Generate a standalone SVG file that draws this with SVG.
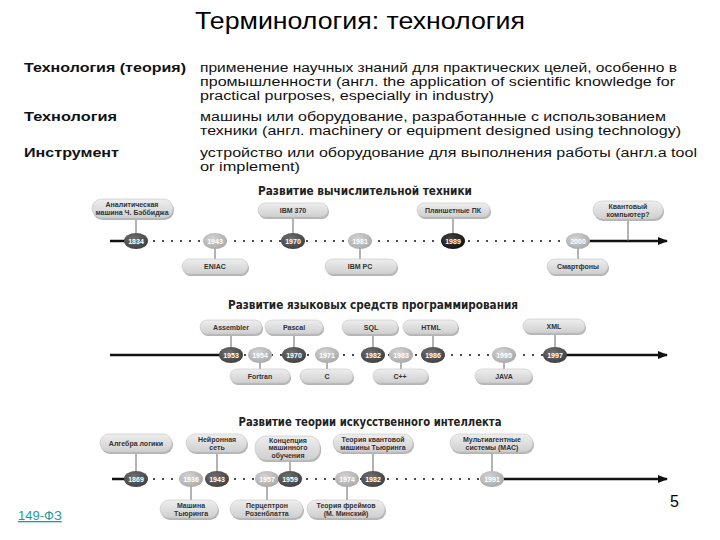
<svg xmlns="http://www.w3.org/2000/svg" width="720" height="540" viewBox="0 0 720 540">
<defs>
<linearGradient id="pg" x1="0" y1="0" x2="0" y2="1"><stop offset="0" stop-color="#eeeeee"/><stop offset="1" stop-color="#cfcfcf"/></linearGradient>
<radialGradient id="gd" cx="0.4" cy="0.35" r="0.7"><stop offset="0" stop-color="#707070"/><stop offset="1" stop-color="#3e3e3e"/></radialGradient>
<radialGradient id="gl" cx="0.4" cy="0.35" r="0.7"><stop offset="0" stop-color="#d4d4d4"/><stop offset="1" stop-color="#a8a8a8"/></radialGradient>
<radialGradient id="gb" cx="0.4" cy="0.35" r="0.7"><stop offset="0" stop-color="#444"/><stop offset="1" stop-color="#111"/></radialGradient>
<marker id="arr" markerWidth="10" markerHeight="8" refX="9" refY="4" orient="auto" markerUnits="userSpaceOnUse"><path d="M0,0 L10,4 L0,8 Z" fill="#111"/></marker>
<style>
.h{font-family:"Liberation Sans",Arial,sans-serif;fill:#000}
.lb{font-family:"Liberation Sans",Arial,sans-serif;font-weight:bold;font-size:12.5px;fill:#111}
.d{font-family:"Liberation Sans",Arial,sans-serif;font-size:12.5px;fill:#111}
.tt{font-family:"DejaVu Sans","Liberation Sans",sans-serif;font-weight:bold;font-size:12px;fill:#222;text-anchor:middle}
.pill{fill:url(#pg);stroke:#c4c4c4;stroke-width:0.6}
.sh{fill:#b5b5b5}
.pt{font-family:"Liberation Sans",Arial,sans-serif;font-weight:bold;font-size:7px;fill:#333;text-anchor:middle}
.yd{fill:url(#gd)}
.yl{fill:url(#gl)}
.yb{fill:url(#gb)}
.yt{font-family:"Liberation Sans",Arial,sans-serif;font-weight:bold;font-size:7px;fill:#fff;text-anchor:middle}
.solid{stroke:#111;stroke-width:2.5;fill:none}
.dots{stroke:#222;stroke-width:2.2;stroke-dasharray:0 9;stroke-linecap:round;fill:none}
.tick{stroke:#666;stroke-width:1}
</style>
</defs>
<rect width="720" height="540" fill="#fff"/>

<g id="header">
<text class="h" x="360" y="29" font-size="23" text-anchor="middle" textLength="330" lengthAdjust="spacingAndGlyphs">Терминология: технология</text>
<text class="lb" x="24" y="71.5" textLength="162" lengthAdjust="spacingAndGlyphs">Технология (теория)</text>
<text class="d" x="200" y="71.5" textLength="477" lengthAdjust="spacingAndGlyphs">применение научных знаний для практических целей, особенно в</text>
<text class="d" x="200" y="85.5" textLength="475" lengthAdjust="spacingAndGlyphs">промышленности (англ. the application of scientific knowledge for</text>
<text class="d" x="200" y="99.5" textLength="294" lengthAdjust="spacingAndGlyphs">practical purposes, especially in industry)</text>
<text class="lb" x="24" y="121" textLength="93" lengthAdjust="spacingAndGlyphs">Технология</text>
<text class="d" x="200" y="121" textLength="466" lengthAdjust="spacingAndGlyphs">машины или оборудование, разработанные с использованием</text>
<text class="d" x="200" y="135" textLength="481" lengthAdjust="spacingAndGlyphs">техники (англ. machinery or equipment designed using technology)</text>
<text class="lb" x="24" y="157" textLength="95" lengthAdjust="spacingAndGlyphs">Инструмент</text>
<text class="d" x="200" y="157" textLength="497" lengthAdjust="spacingAndGlyphs">устройство или оборудование для выполнения работы (англ.a tool</text>
<text class="d" x="200" y="171" textLength="100" lengthAdjust="spacingAndGlyphs">or implement)</text>
</g>

<g id="connectors">
<line class="solid" x1="110" y1="241" x2="136" y2="241"/>
<line class="dots" x1="145" y1="241" x2="570" y2="241"/>
<line class="solid" x1="578" y1="241" x2="667" y2="241" marker-end="url(#arr)"/>
<line class="tick" x1="136" y1="218" x2="136" y2="241"/>
<line class="tick" x1="215" y1="241" x2="215" y2="259"/>
<line class="tick" x1="293" y1="217" x2="293" y2="241"/>
<line class="tick" x1="360" y1="241" x2="360" y2="259"/>
<line class="tick" x1="453" y1="217" x2="453" y2="241"/>
<line class="tick" x1="578" y1="241" x2="578" y2="259"/>
<line class="tick" x1="628" y1="220" x2="628" y2="241" stroke="#333"/>
<line class="solid" x1="110" y1="355" x2="227" y2="355"/>
<line class="dots" x1="236" y1="355" x2="550" y2="355"/>
<line class="solid" x1="555" y1="355" x2="667" y2="355" marker-end="url(#arr)"/>
<line class="tick" x1="231" y1="334" x2="231" y2="355"/>
<line class="tick" x1="260" y1="355" x2="260" y2="369"/>
<line class="tick" x1="294" y1="334" x2="294" y2="355"/>
<line class="tick" x1="327" y1="355" x2="327" y2="369"/>
<line class="tick" x1="373" y1="334" x2="373" y2="355"/>
<line class="tick" x1="401" y1="355" x2="401" y2="369"/>
<line class="tick" x1="433" y1="334" x2="433" y2="355"/>
<line class="tick" x1="504" y1="355" x2="504" y2="369"/>
<line class="tick" x1="555" y1="334" x2="555" y2="355"/>
<line class="solid" x1="112" y1="479" x2="136" y2="479"/>
<line class="dots" x1="145" y1="479" x2="486" y2="479"/>
<line class="solid" x1="492" y1="479" x2="667" y2="479" marker-end="url(#arr)"/>
<line class="tick" x1="136" y1="452" x2="136" y2="479"/>
<line class="tick" x1="191" y1="479" x2="191" y2="500"/>
<line class="tick" x1="217" y1="452" x2="217" y2="479"/>
<line class="tick" x1="267" y1="479" x2="267" y2="500"/>
<line class="tick" x1="290" y1="460" x2="290" y2="479"/>
<line class="tick" x1="347" y1="479" x2="347" y2="500"/>
<line class="tick" x1="373" y1="452" x2="373" y2="479"/>
<line class="tick" x1="492" y1="452" x2="492" y2="479"/>
</g>

<g id="t1-title"><text class="tt" x="365" y="195" textLength="214" lengthAdjust="spacingAndGlyphs">Развитие вычислительной техники</text></g>
<g id="t1-babbage"><rect class="sh" x="93" y="201" width="81" height="19" rx="9.5"/><rect class="pill" x="92" y="199" width="81" height="19" rx="9.5"/><text class="pt" x="132" y="207">Аналитическая</text><text class="pt" x="132" y="215">машина Ч. Бэббиджа</text></g>
<g id="t1-ibm370"><rect class="sh" x="259" y="205" width="70" height="14" rx="7"/><rect class="pill" x="258" y="203" width="70" height="14" rx="7"/><text class="pt" x="293" y="212.5">IBM 370</text></g>
<g id="t1-tablet"><rect class="sh" x="418" y="205" width="73" height="14" rx="7"/><rect class="pill" x="417" y="203" width="73" height="14" rx="7"/><text class="pt" x="453" y="212.5">Планшетные ПК</text></g>
<g id="t1-quantum"><rect class="sh" x="594" y="203" width="70" height="18" rx="9"/><rect class="pill" x="593" y="201" width="70" height="18" rx="9"/><text class="pt" x="628" y="208.5">Квантовый</text><text class="pt" x="628" y="216.5">компьютер?</text></g>
<g id="t1-eniac"><rect class="sh" x="183" y="261" width="66" height="15" rx="7.5"/><rect class="pill" x="182" y="259" width="66" height="15" rx="7.5"/><text class="pt" x="215" y="269">ENIAC</text></g>
<g id="t1-ibmpc"><rect class="sh" x="326" y="261" width="72" height="15" rx="7.5"/><rect class="pill" x="325" y="259" width="72" height="15" rx="7.5"/><text class="pt" x="360" y="269">IBM PC</text></g>
<g id="t1-phones"><rect class="sh" x="548" y="261" width="61" height="15" rx="7.5"/><rect class="pill" x="547" y="259" width="61" height="15" rx="7.5"/><text class="pt" x="578" y="269">Смартфоны</text></g>
<g id="t1-y1834"><ellipse class="yd" cx="136" cy="241" rx="12" ry="8"/><text class="yt" x="136" y="243.5">1834</text></g>
<g id="t1-y1943"><ellipse class="yl" cx="215" cy="241" rx="12" ry="8"/><text class="yt" x="215" y="243.5">1943</text></g>
<g id="t1-y1970"><ellipse class="yd" cx="293" cy="241" rx="12" ry="8"/><text class="yt" x="293" y="243.5">1970</text></g>
<g id="t1-y1981"><ellipse class="yl" cx="360" cy="241" rx="12" ry="8"/><text class="yt" x="360" y="243.5">1981</text></g>
<g id="t1-y1989"><ellipse class="yb" cx="453" cy="241" rx="12" ry="8"/><text class="yt" x="453" y="243.5">1989</text></g>
<g id="t1-y2000"><ellipse class="yl" cx="578" cy="241" rx="12" ry="8"/><text class="yt" x="578" y="243.5">2000</text></g>

<g id="t2-title"><text class="tt" x="373" y="309" textLength="290" lengthAdjust="spacingAndGlyphs">Развитие языковых средств программирования</text></g>
<g id="t2-asm"><rect class="sh" x="201" y="322" width="62" height="14" rx="7"/><rect class="pill" x="200" y="320" width="62" height="14" rx="7"/><text class="pt" x="231" y="329.5">Assembler</text></g>
<g id="t2-pascal"><rect class="sh" x="266" y="322" width="58" height="14" rx="7"/><rect class="pill" x="265" y="320" width="58" height="14" rx="7"/><text class="pt" x="294" y="329.5">Pascal</text></g>
<g id="t2-sql"><rect class="sh" x="343" y="322" width="56" height="14" rx="7"/><rect class="pill" x="342" y="320" width="56" height="14" rx="7"/><text class="pt" x="371" y="329.5">SQL</text></g>
<g id="t2-html"><rect class="sh" x="404" y="322" width="55" height="14" rx="7"/><rect class="pill" x="403" y="320" width="55" height="14" rx="7"/><text class="pt" x="431" y="329.5">HTML</text></g>
<g id="t2-xml"><rect class="sh" x="524" y="321" width="62" height="14" rx="7"/><rect class="pill" x="523" y="319" width="62" height="14" rx="7"/><text class="pt" x="554" y="328.5">XML</text></g>
<g id="t2-fortran"><rect class="sh" x="231" y="371" width="60" height="14" rx="7"/><rect class="pill" x="230" y="369" width="60" height="14" rx="7"/><text class="pt" x="260" y="378.5">Fortran</text></g>
<g id="t2-c"><rect class="sh" x="301" y="371" width="53" height="14" rx="7"/><rect class="pill" x="300" y="369" width="53" height="14" rx="7"/><text class="pt" x="327" y="378.5">C</text></g>
<g id="t2-cpp"><rect class="sh" x="374" y="371" width="55" height="14" rx="7"/><rect class="pill" x="373" y="369" width="55" height="14" rx="7"/><text class="pt" x="400" y="378.5">C++</text></g>
<g id="t2-java"><rect class="sh" x="476" y="371" width="57" height="14" rx="7"/><rect class="pill" x="475" y="369" width="57" height="14" rx="7"/><text class="pt" x="504" y="378.5">JAVA</text></g>
<g id="t2-y1953"><ellipse class="yd" cx="231" cy="355" rx="12" ry="8"/><text class="yt" x="231" y="357.5">1953</text></g>
<g id="t2-y1954"><ellipse class="yl" cx="260" cy="355" rx="12" ry="8"/><text class="yt" x="260" y="357.5">1954</text></g>
<g id="t2-y1970"><ellipse class="yd" cx="294" cy="355" rx="12" ry="8"/><text class="yt" x="294" y="357.5">1970</text></g>
<g id="t2-y1971"><ellipse class="yl" cx="327" cy="355" rx="12" ry="8"/><text class="yt" x="327" y="357.5">1971</text></g>
<g id="t2-y1982"><ellipse class="yd" cx="373" cy="355" rx="12" ry="8"/><text class="yt" x="373" y="357.5">1982</text></g>
<g id="t2-y1983"><ellipse class="yl" cx="401" cy="355" rx="12" ry="8"/><text class="yt" x="401" y="357.5">1983</text></g>
<g id="t2-y1986"><ellipse class="yd" cx="433" cy="355" rx="12" ry="8"/><text class="yt" x="433" y="357.5">1986</text></g>
<g id="t2-y1995"><ellipse class="yl" cx="504" cy="355" rx="12" ry="8"/><text class="yt" x="504" y="357.5">1995</text></g>
<g id="t2-y1997"><ellipse class="yd" cx="555" cy="355" rx="12" ry="8"/><text class="yt" x="555" y="357.5">1997</text></g>

<g id="t3-title"><text class="tt" x="370" y="426" textLength="263" lengthAdjust="spacingAndGlyphs">Развитие теории искусственного интеллекта</text></g>
<g id="t3-algebra"><rect class="sh" x="101" y="436" width="72" height="18" rx="9"/><rect class="pill" x="100" y="434" width="72" height="18" rx="9"/><text class="pt" x="136" y="445.5">Алгебра логики</text></g>
<g id="t3-neural"><rect class="sh" x="187" y="436" width="61" height="18" rx="9"/><rect class="pill" x="186" y="434" width="61" height="18" rx="9"/><text class="pt" x="217" y="441.5">Нейронная</text><text class="pt" x="217" y="449.5">сеть</text></g>
<g id="t3-ml"><rect class="sh" x="256" y="438" width="65" height="24" rx="11"/><rect class="pill" x="255" y="436" width="65" height="24" rx="11"/><text class="pt" x="288" y="442.5">Концепция</text><text class="pt" x="288" y="450">машинного</text><text class="pt" x="288" y="457.5">обучения</text></g>
<g id="t3-qturing"><rect class="sh" x="334" y="436" width="80" height="18" rx="9"/><rect class="pill" x="333" y="434" width="80" height="18" rx="9"/><text class="pt" x="373" y="441.5">Теория квантовой</text><text class="pt" x="373" y="449.5">машины Тьюринга</text></g>
<g id="t3-mas"><rect class="sh" x="451" y="436" width="83" height="18" rx="9"/><rect class="pill" x="450" y="434" width="83" height="18" rx="9"/><text class="pt" x="492" y="441.5">Мультиагентные</text><text class="pt" x="492" y="449.5">системы (МАС)</text></g>
<g id="t3-turing"><rect class="sh" x="161" y="502" width="58" height="18" rx="9"/><rect class="pill" x="160" y="500" width="58" height="18" rx="9"/><text class="pt" x="191" y="507.5">Машина</text><text class="pt" x="191" y="515.5">Тьюринга</text></g>
<g id="t3-perceptron"><rect class="sh" x="231" y="502" width="73" height="18" rx="9"/><rect class="pill" x="230" y="500" width="73" height="18" rx="9"/><text class="pt" x="267" y="507.5">Перцептрон</text><text class="pt" x="267" y="515.5">Розенблатта</text></g>
<g id="t3-frames"><rect class="sh" x="308" y="502" width="78" height="18" rx="9"/><rect class="pill" x="307" y="500" width="78" height="18" rx="9"/><text class="pt" x="346" y="507.5">Теория фреймов</text><text class="pt" x="346" y="515.5">(М. Минский)</text></g>
<g id="t3-y1869"><ellipse class="yd" cx="136" cy="479" rx="12" ry="8"/><text class="yt" x="136" y="481.5">1869</text></g>
<g id="t3-y1936"><ellipse class="yl" cx="191" cy="479" rx="12" ry="8"/><text class="yt" x="191" y="481.5">1936</text></g>
<g id="t3-y1943"><ellipse class="yd" cx="217" cy="479" rx="12" ry="8"/><text class="yt" x="217" y="481.5">1943</text></g>
<g id="t3-y1957"><ellipse class="yl" cx="267" cy="479" rx="12" ry="8"/><text class="yt" x="267" y="481.5">1957</text></g>
<g id="t3-y1959"><ellipse class="yd" cx="290" cy="479" rx="12" ry="8"/><text class="yt" x="290" y="481.5">1959</text></g>
<g id="t3-y1974"><ellipse class="yl" cx="347" cy="479" rx="12" ry="8"/><text class="yt" x="347" y="481.5">1974</text></g>
<g id="t3-y1982"><ellipse class="yd" cx="373" cy="479" rx="12" ry="8"/><text class="yt" x="373" y="481.5">1982</text></g>
<g id="t3-y1991"><ellipse class="yl" cx="492" cy="479" rx="12" ry="8"/><text class="yt" x="492" y="481.5">1991</text></g>

<g id="footer">
<text class="h" x="679" y="507" font-size="16" text-anchor="end">5</text>
<text x="18" y="520" font-family="Liberation Sans, Arial, sans-serif" font-size="13" fill="#1e9a9a" text-decoration="underline">149-ФЗ</text>
</g>
</svg>
